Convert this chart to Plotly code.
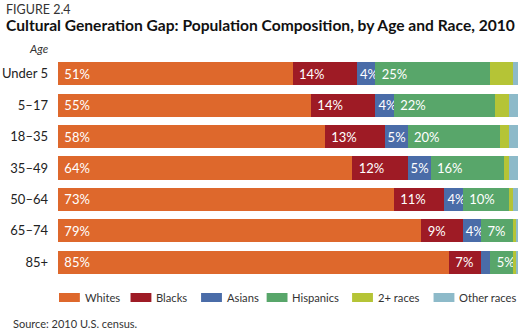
import plotly.graph_objects as go

ages = ["Under 5", "5–17", "18–35", "35–49", "50–64", "65–74", "85+"]
races = ["Whites", "Blacks", "Asians", "Hispanics", "2+ races", "Other races"]
whites = [51, 55, 58, 64, 73, 79, 85]
blacks = [14, 14, 13, 12, 11, 9, 7]
asians = [4, 4, 5, 5, 4, 4, 2]
hispanics = [25, 22, 20, 16, 10, 7, 5]
two_plus = [5, 3, 2, 1, 1, 0.6, 0.5]
other = [1, 2, 2, 2, 1, 0.4, 0.5]
series = [whites, blacks, asians, hispanics, two_plus, other]
labelled = [True, True, True, True, False, False]
colors = ["#de682c", "#9e1b25", "#4a6ca8", "#58a66a", "#b5c436", "#8dbac9"]

FONT = "Lato"
W, H = 520, 331
L, R, T, B = 55, 2, 58, 53
pw, ph = W - L - R, H - T - B

def px(x):
    return (x - L) / pw

def py(y):
    return (H - B - y) / ph

fig = go.Figure()
for name, vals, lab, col in zip(races, series, labelled, colors):
    texts = []
    pad = "" if name == "Asians" else "\u00a0"
    for a, v in zip(ages, vals):
        if lab and not (name == "Asians" and a == "85+"):
            texts.append(f"{pad}{v:g}%")
        else:
            texts.append("")
    fig.add_trace(go.Bar(
        y=ages, x=vals, orientation="h", name=name,
        marker=dict(color=col, line=dict(width=0)),
        text=texts, textposition="inside", insidetextanchor="start",
        textangle=0, constraintext="none",
        textfont=dict(family=FONT, size=13, color="white"),
        cliponaxis=False, showlegend=False,
    ))

fig.update_layout(
    barmode="stack", bargap=0.26,
    width=W, height=H,
    margin=dict(l=L, r=R, t=T, b=B),
    paper_bgcolor="white", plot_bgcolor="white",
    font=dict(family=FONT, color="#222"),
    xaxis=dict(range=[0, 100], visible=False, fixedrange=True),
    yaxis=dict(categoryorder="array", categoryarray=ages, autorange="reversed",
               showgrid=False, showline=False, ticks="", ticklabelstandoff=9,
               tickfont=dict(family=FONT, size=13, color="#222")),
)

ann = [
    dict(text="FIGURE 2.4", x=px(1), y=py(9), font=dict(size=12.5, color="#333")),
    dict(text="<b>Cultural Generation Gap: Population Composition, by Age and Race, 2010</b>",
         x=px(1), y=py(25), font=dict(size=15.6, color="#111")),
    dict(text="<i>Age</i>", x=px(24), y=py(48), font=dict(size=11.5, color="#333")),
    dict(text="Source: 2010 U.S. census.", x=px(8), y=py(323), font=dict(size=11, color="#333")),
]
# custom legend
leg_x = [56, 128, 199, 265, 351, 433]
shapes = []
for name, col, lx in zip(races, colors, leg_x):
    shapes.append(dict(type="rect", xref="paper", yref="paper",
                       x0=px(lx), x1=px(lx + 21), y0=py(302), y1=py(293),
                       fillcolor=col, line=dict(width=0)))
    ann.append(dict(text=name, x=px(lx + 24), y=py(297.5), font=dict(size=11.2, color="#333")))

for a in ann:
    a.update(xref="paper", yref="paper", xanchor="left", yanchor="middle", showarrow=False)
    a["font"]["family"] = FONT
fig.update_layout(annotations=ann, shapes=shapes)

fig.write_html("out.html")
